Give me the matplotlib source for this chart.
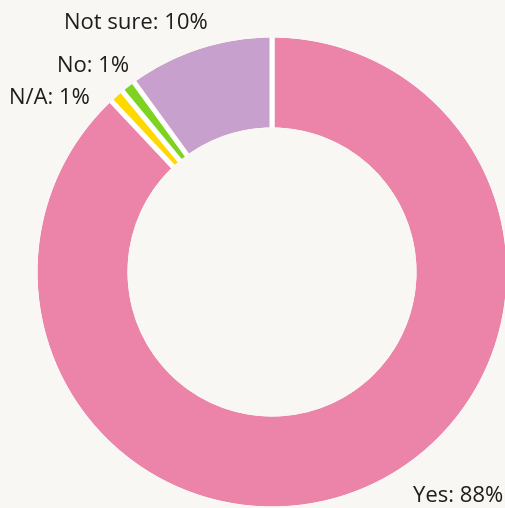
import matplotlib
matplotlib.use("Agg")
import matplotlib.pyplot as plt

# Survey answers, in clockwise order from 12 o'clock
categories = ["Yes", "N/A", "No", "Not sure"]
shares = [88, 1, 1, 10]
colors = ["#ec83a9", "#ffd800", "#7ed321", "#c8a0cd"]
labels = [f"{c}: {v}%" for c, v in zip(categories, shares)]

W, H = 506, 508
bg = "#f9f7f3"

fig = plt.figure(figsize=(W / 100, H / 100), dpi=100, facecolor=bg)
ax = fig.add_axes([0, 0, 1, 1])
ax.set_facecolor(bg)

cx, cy = 272, H - 272
r_out, r_in = 237, 142

# white outlines make the gaps between slices
ax.pie(shares, colors=colors, startangle=90, counterclock=False,
       center=(cx, cy), radius=r_out, frame=True,
       wedgeprops=dict(width=r_out - r_in, edgecolor="#ffffff", linewidth=3.6))
ax.set_xlim(0, W)
ax.set_ylim(0, H)
ax.set_aspect("equal")
ax.axis("off")

# hide the white outline along the outer and inner rims
ring_lw = 3.6
ax.add_patch(plt.Circle((cx, cy), r_out, fill=False, ec=bg, lw=ring_lw, zorder=5))
ax.add_patch(plt.Circle((cx, cy), r_in, fill=False, ec=bg, lw=ring_lw, zorder=5))

font = dict(family=["Open Sans", "DejaVu Sans"], fontsize=15.8, color="#1e1e1e")
# label anchors (pixel positions, y measured from top)
anchors = {
    "Yes": (503, 497, "right"),
    "N/A": (90, 98, "right"),
    "No": (129, 66, "right"),
    "Not sure": (208, 23, "right"),
}
for cat, lab in zip(categories, labels):
    x, y, ha = anchors[cat]
    ax.text(x, H - y, lab, ha=ha, va="center", zorder=6, **font)

fig.savefig("out.png", dpi=100, facecolor=bg)
